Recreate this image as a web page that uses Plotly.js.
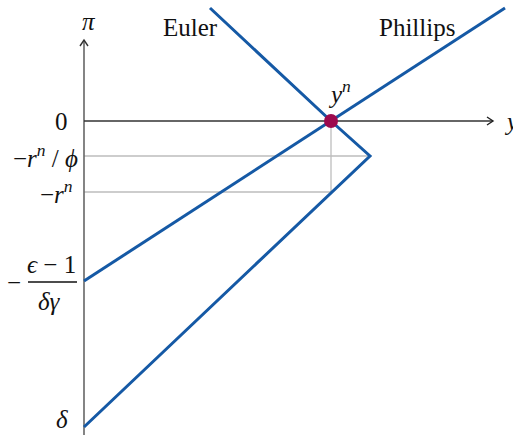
<!DOCTYPE html>
<html>
<head>
<meta charset="utf-8">
<script src="https://cdn.plot.ly/plotly-3.0.1.min.js"></script>
<style>html,body{margin:0;padding:0;background:#fff;}#chart{width:513px;height:437px;}</style>
</head>
<body>
<div id="chart"></div>
<script>
// ---- data (model units) ----
const yNatural = 2.47;                       // y^n
const phillipsX  = [0, 2.47, 4.21];
const phillipsPi = [-1.60, 0, 1.13];
const eulerX  = [1.26, 2.47, 2.86, 0];
const eulerPi = [1.13, 0, -0.35, -3.06];
const piTickValues = [0, -0.35, -0.71, -1.60, -3.06];
const piTickLabels = ['0', '−<i>r</i><sup><i>n</i></sup> / <i>ϕ</i>', '−<i>r</i><sup><i>n</i></sup>', 'frac', '<i>δ</i>'];
const curveNames = ['Euler', 'Phillips'];

// ---- layout constants ----
const W = 513, H = 437;
const xr = [-0.84, 4.29], yr = [-3.16, 1.21];
const ux = W / (xr[1] - xr[0]), uy = H / (yr[1] - yr[0]);
const dx = p => p / ux, dy = p => p / uy;
const blue = '#1559a5', dot = '#9c0a4e', grey = '#bdbdbd';
const FONT = 'Liberation Serif';
const yAxisTop = 0.81, yAxisBottom = -3.14, xAxisEnd = 4.09;

const traces = [
  {x: phillipsX, y: phillipsPi, mode: 'lines', line: {color: blue, width: 3}, hoverinfo: 'skip'},
  {x: eulerX, y: eulerPi, mode: 'lines', line: {color: blue, width: 3}, hoverinfo: 'skip'},
  {x: [yNatural], y: [0], mode: 'markers', marker: {color: dot, size: 14}, hoverinfo: 'skip'}
];

const shapes = [
  {type: 'line', x0: 0, x1: eulerX[2], y0: piTickValues[1], y1: piTickValues[1], line: {color: grey, width: 1.3}, layer: 'below'},
  {type: 'line', x0: 0, x1: yNatural, y0: piTickValues[2], y1: piTickValues[2], line: {color: grey, width: 1.3}, layer: 'below'},
  {type: 'line', x0: yNatural, x1: yNatural, y0: 0, y1: piTickValues[2], line: {color: grey, width: 1.3}, layer: 'below'},
  {type: 'line', x0: 0, x1: 0, y0: yAxisBottom, y1: yAxisTop, line: {color: '#666', width: 1.6}, layer: 'below'},
  {type: 'line', x0: 0, x1: xAxisEnd, y0: 0, y1: 0, line: {color: '#333', width: 1.3}, layer: 'below'},
  {type: 'path', path: `M ${-dx(4)} ${yAxisTop - dy(6)} L 0 ${yAxisTop} L ${dx(4)} ${yAxisTop - dy(6)}`, line: {color: '#333', width: 1.4}},
  {type: 'path', path: `M ${xAxisEnd - dx(6)} ${dy(4)} L ${xAxisEnd} 0 L ${xAxisEnd - dx(6)} ${-dy(4)}`, line: {color: '#222', width: 1.4}},
  {type: 'line', x0: -dx(56), x1: -dx(7), y0: piTickValues[3] - dy(1), y1: piTickValues[3] - dy(1), line: {color: '#111', width: 1.3}}
];

const base = {showarrow: false, font: {family: FONT, size: 25, color: '#111'}};
const ann = [];
const tickOffsets = [14, 4, 9];
[0, 1, 2].forEach(i => {
  ann.push(Object.assign({}, base, {x: -dx(tickOffsets[i]), y: piTickValues[i], xanchor: 'right', yanchor: 'middle', text: piTickLabels[i]}));
});
ann.push(Object.assign({}, base, {x: -dx(14), y: piTickValues[4] + dy(8), xanchor: 'right', yanchor: 'middle', text: piTickLabels[4]}));
ann.push(Object.assign({}, base, {x: -dx(33), y: piTickValues[3] + dy(17), xanchor: 'center', yanchor: 'middle', text: '<i>ϵ</i> − 1'}));
ann.push(Object.assign({}, base, {x: -dx(35), y: piTickValues[3] - dy(20), xanchor: 'center', yanchor: 'middle', text: '<i>δγ</i>'}));
ann.push(Object.assign({}, base, {x: -dx(70), y: piTickValues[3] - dy(1), xanchor: 'center', yanchor: 'middle', text: '−'}));
ann.push(Object.assign({}, base, {x: dx(5), y: yAxisTop + dy(19), xanchor: 'center', yanchor: 'middle', text: '<i>π</i>'}));
ann.push(Object.assign({}, base, {x: xAxisEnd + dx(9), y: 0, xanchor: 'left', yanchor: 'middle', text: '<i>y</i>'}));
ann.push(Object.assign({}, base, {x: yNatural + dx(8), y: dy(29), xanchor: 'center', yanchor: 'middle', text: '<i>y</i><sup><i>n</i></sup>'}));
ann.push(Object.assign({}, base, {x: eulerX[0] - dx(20), y: eulerPi[0] - dy(19), xanchor: 'center', yanchor: 'middle', text: curveNames[0]}));
ann.push(Object.assign({}, base, {x: phillipsX[2] - dx(88), y: phillipsPi[2] - dy(19), xanchor: 'center', yanchor: 'middle', text: curveNames[1]}));

const layout = {
  width: W, height: H,
  margin: {l: 0, r: 0, t: 0, b: 0},
  paper_bgcolor: '#fff', plot_bgcolor: '#fff',
  showlegend: false,
  xaxis: {range: xr, visible: false, fixedrange: true},
  yaxis: {range: yr, visible: false, fixedrange: true},
  shapes: shapes,
  annotations: ann
};
Plotly.newPlot('chart', traces, layout, {staticPlot: true, displayModeBar: false});
</script>
</body>
</html>
